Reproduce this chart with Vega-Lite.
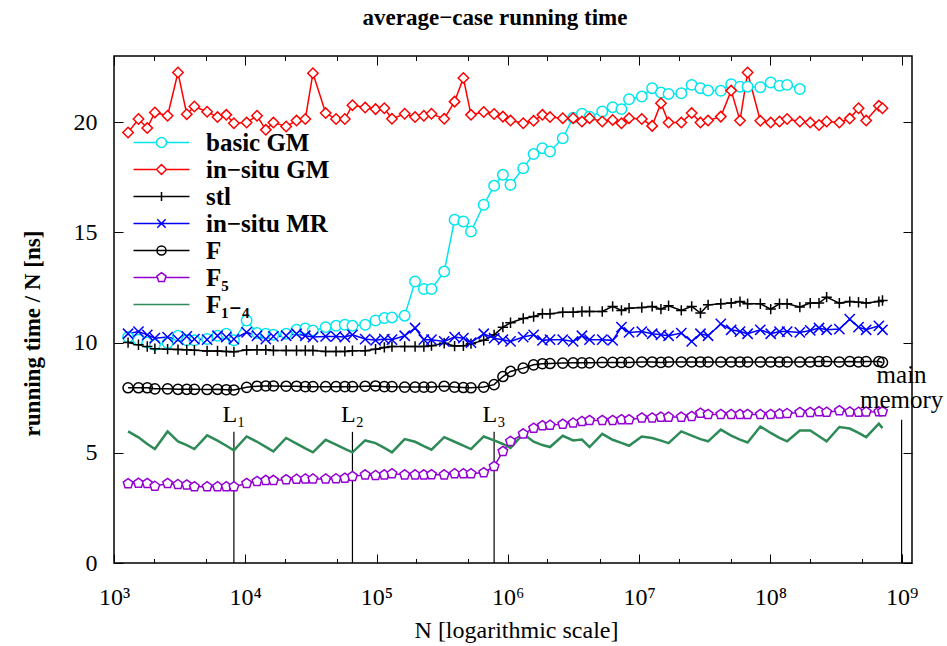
{
"$schema": "https://vega.github.io/schema/vega-lite/v6.json",
"width": 798, "height": 507,
"autosize": {"type": "none"},
"padding": {"left": 114, "top": 56, "right": 35, "bottom": 83},
"background": "white",
"title": {"text": "average−case running time", "font": "Liberation Serif, DejaVu Serif, serif", "fontSize": 23, "fontWeight": "bold", "anchor": "middle", "offset": 26, "dx": -18, "color": "black", "frame": "group"},
"config": {
  "font": "Liberation Serif, DejaVu Serif, serif",
  "view": {"stroke": "black", "strokeWidth": 1.5},
  "axis": {"grid": false, "domain": false, "labelFont": "Liberation Serif, DejaVu Serif, serif", "labelFontSize": 24, "labelColor": "black", "tickColor": "black", "tickWidth": 1, "titleFont": "Liberation Serif, DejaVu Serif, serif", "titleColor": "black", "labelFlush": false, "labelOverlap": false},
  "legend": {"labelFont": "Liberation Serif, DejaVu Serif, serif"},
  "text": {"font": "Liberation Serif, DejaVu Serif, serif"}
},
"datasets": {
"marks": [
 {"name": "L₁", "N": 8192, "top": 5.95},
 {"name": "L₂", "N": 65536, "top": 5.95},
 {"name": "L₃", "N": 786432, "top": 5.95},
 {"name": "main\nmemory", "N": 1000000000, "top": 6.5}
],
"main": [
{"s":"basic GM","N":1280,"t":10.25},{"s":"basic GM","N":1536,"t":10.13},{"s":"basic GM","N":1792,"t":10.0},{"s":"basic GM","N":2048,"t":9.9},{"s":"basic GM","N":2560,"t":9.98},{"s":"basic GM","N":3072,"t":10.31},{"s":"basic GM","N":3584,"t":10.1},{"s":"basic GM","N":4096,"t":10.1},{"s":"basic GM","N":5120,"t":10.16},{"s":"basic GM","N":6144,"t":10.31},
{"s":"basic GM","N":7168,"t":10.4},{"s":"basic GM","N":8192,"t":10.1},{"s":"basic GM","N":10240,"t":11.0},{"s":"basic GM","N":12288,"t":10.43},{"s":"basic GM","N":14336,"t":10.4},{"s":"basic GM","N":16384,"t":10.35},{"s":"basic GM","N":20480,"t":10.4},{"s":"basic GM","N":24576,"t":10.58},{"s":"basic GM","N":28672,"t":10.64},{"s":"basic GM","N":32768,"t":10.55},
{"s":"basic GM","N":40960,"t":10.7},{"s":"basic GM","N":49152,"t":10.76},{"s":"basic GM","N":57344,"t":10.81},{"s":"basic GM","N":65536,"t":10.76},{"s":"basic GM","N":81920,"t":10.81},{"s":"basic GM","N":98304,"t":11.0},{"s":"basic GM","N":114688,"t":11.11},{"s":"basic GM","N":131072,"t":11.14},{"s":"basic GM","N":163840,"t":11.22},{"s":"basic GM","N":196608,"t":12.77},
{"s":"basic GM","N":229376,"t":12.43},{"s":"basic GM","N":262144,"t":12.43},{"s":"basic GM","N":327680,"t":13.22},{"s":"basic GM","N":393216,"t":15.57},{"s":"basic GM","N":458752,"t":15.49},{"s":"basic GM","N":524288,"t":15.04},{"s":"basic GM","N":655360,"t":16.25},{"s":"basic GM","N":786432,"t":17.11},{"s":"basic GM","N":917504,"t":17.61},{"s":"basic GM","N":1048576,"t":17.16},
{"s":"basic GM","N":1310720,"t":17.91},{"s":"basic GM","N":1572864,"t":18.55},{"s":"basic GM","N":1835008,"t":18.82},{"s":"basic GM","N":2097152,"t":18.67},{"s":"basic GM","N":2621440,"t":19.27},{"s":"basic GM","N":3145728,"t":20.2},{"s":"basic GM","N":3670016,"t":20.38},{"s":"basic GM","N":4194304,"t":20.25},{"s":"basic GM","N":5242880,"t":20.48},{"s":"basic GM","N":6291456,"t":20.68},
{"s":"basic GM","N":7340032,"t":20.59},{"s":"basic GM","N":8388608,"t":21.04},{"s":"basic GM","N":10485760,"t":21.16},{"s":"basic GM","N":12582912,"t":21.54},{"s":"basic GM","N":14680064,"t":21.34},{"s":"basic GM","N":16777216,"t":21.28},{"s":"basic GM","N":20971520,"t":21.31},{"s":"basic GM","N":25165824,"t":21.69},{"s":"basic GM","N":29360128,"t":21.54},{"s":"basic GM","N":33554432,"t":21.43},
{"s":"basic GM","N":41943040,"t":21.42},{"s":"basic GM","N":50331648,"t":21.72},{"s":"basic GM","N":58720256,"t":21.61},{"s":"basic GM","N":67108864,"t":21.61},{"s":"basic GM","N":83886080,"t":21.58},{"s":"basic GM","N":100663296,"t":21.8},{"s":"basic GM","N":117440512,"t":21.65},{"s":"basic GM","N":134217728,"t":21.69},{"s":"basic GM","N":167772160,"t":21.5},

{"s":"in−situ GM","N":1280,"t":19.53},{"s":"in−situ GM","N":1536,"t":20.14},{"s":"in−situ GM","N":1792,"t":19.73},{"s":"in−situ GM","N":2048,"t":20.44},{"s":"in−situ GM","N":2560,"t":20.29},{"s":"in−situ GM","N":3072,"t":22.25},{"s":"in−situ GM","N":3584,"t":20.36},{"s":"in−situ GM","N":4096,"t":20.71},{"s":"in−situ GM","N":5120,"t":20.47},{"s":"in−situ GM","N":6144,"t":20.23},
{"s":"in−situ GM","N":7168,"t":20.33},{"s":"in−situ GM","N":8192,"t":19.95},{"s":"in−situ GM","N":10240,"t":19.98},{"s":"in−situ GM","N":12288,"t":20.29},{"s":"in−situ GM","N":14336,"t":19.65},{"s":"in−situ GM","N":16384,"t":19.98},{"s":"in−situ GM","N":20480,"t":19.8},{"s":"in−situ GM","N":24576,"t":20.07},{"s":"in−situ GM","N":28672,"t":20.14},{"s":"in−situ GM","N":32768,"t":22.22},
{"s":"in−situ GM","N":40960,"t":20.41},{"s":"in−situ GM","N":49152,"t":20.14},{"s":"in−situ GM","N":57344,"t":20.14},{"s":"in−situ GM","N":65536,"t":20.77},{"s":"in−situ GM","N":81920,"t":20.66},{"s":"in−situ GM","N":98304,"t":20.59},{"s":"in−situ GM","N":114688,"t":20.63},{"s":"in−situ GM","N":131072,"t":20.15},{"s":"in−situ GM","N":163840,"t":20.38},{"s":"in−situ GM","N":196608,"t":20.23},
{"s":"in−situ GM","N":229376,"t":20.29},{"s":"in−situ GM","N":262144,"t":20.38},{"s":"in−situ GM","N":327680,"t":20.15},{"s":"in−situ GM","N":393216,"t":20.93},{"s":"in−situ GM","N":458752,"t":22.0},{"s":"in−situ GM","N":524288,"t":20.33},{"s":"in−situ GM","N":655360,"t":20.46},{"s":"in−situ GM","N":786432,"t":20.37},{"s":"in−situ GM","N":917504,"t":20.25},{"s":"in−situ GM","N":1048576,"t":20.07},
{"s":"in−situ GM","N":1310720,"t":19.95},{"s":"in−situ GM","N":1572864,"t":20.06},{"s":"in−situ GM","N":1835008,"t":20.33},{"s":"in−situ GM","N":2097152,"t":20.23},{"s":"in−situ GM","N":2621440,"t":20.18},{"s":"in−situ GM","N":3145728,"t":20.18},{"s":"in−situ GM","N":3670016,"t":20.03},{"s":"in−situ GM","N":4194304,"t":20.18},{"s":"in−situ GM","N":5242880,"t":20.03},{"s":"in−situ GM","N":6291456,"t":20.1},
{"s":"in−situ GM","N":7340032,"t":19.95},{"s":"in−situ GM","N":8388608,"t":20.18},{"s":"in−situ GM","N":10485760,"t":20.14},{"s":"in−situ GM","N":12582912,"t":19.83},{"s":"in−situ GM","N":14680064,"t":20.86},{"s":"in−situ GM","N":16777216,"t":19.98},{"s":"in−situ GM","N":20971520,"t":19.98},{"s":"in−situ GM","N":25165824,"t":20.41},{"s":"in−situ GM","N":29360128,"t":19.98},{"s":"in−situ GM","N":33554432,"t":20.07},
{"s":"in−situ GM","N":41943040,"t":20.25},{"s":"in−situ GM","N":50331648,"t":21.43},{"s":"in−situ GM","N":58720256,"t":20.07},{"s":"in−situ GM","N":67108864,"t":22.25},{"s":"in−situ GM","N":83886080,"t":20.06},{"s":"in−situ GM","N":100663296,"t":19.98},{"s":"in−situ GM","N":117440512,"t":20.03},{"s":"in−situ GM","N":134217728,"t":20.14},{"s":"in−situ GM","N":167772160,"t":20.03},{"s":"in−situ GM","N":201326592,"t":19.98},
{"s":"in−situ GM","N":234881024,"t":19.87},{"s":"in−situ GM","N":268435456,"t":20.03},{"s":"in−situ GM","N":335544320,"t":19.98},{"s":"in−situ GM","N":402653184,"t":20.16},{"s":"in−situ GM","N":469762048,"t":20.63},{"s":"in−situ GM","N":536870912,"t":20.07},{"s":"in−situ GM","N":671088640,"t":20.74},{"s":"in−situ GM","N":715000000,"t":20.63},

{"s":"stl","N":1280,"t":10.0},{"s":"stl","N":1536,"t":9.9},{"s":"stl","N":1792,"t":9.82},{"s":"stl","N":2048,"t":9.72},{"s":"stl","N":2560,"t":9.7},{"s":"stl","N":3072,"t":9.68},{"s":"stl","N":3584,"t":9.67},{"s":"stl","N":4096,"t":9.65},{"s":"stl","N":5120,"t":9.62},{"s":"stl","N":6144,"t":9.62},
{"s":"stl","N":7168,"t":9.6},{"s":"stl","N":8192,"t":9.58},{"s":"stl","N":10240,"t":9.66},{"s":"stl","N":12288,"t":9.67},{"s":"stl","N":14336,"t":9.67},{"s":"stl","N":16384,"t":9.64},{"s":"stl","N":20480,"t":9.64},{"s":"stl","N":24576,"t":9.64},{"s":"stl","N":28672,"t":9.64},{"s":"stl","N":32768,"t":9.64},
{"s":"stl","N":40960,"t":9.6},{"s":"stl","N":49152,"t":9.6},{"s":"stl","N":57344,"t":9.6},{"s":"stl","N":65536,"t":9.63},{"s":"stl","N":81920,"t":9.63},{"s":"stl","N":98304,"t":9.7},{"s":"stl","N":114688,"t":9.78},{"s":"stl","N":131072,"t":9.82},{"s":"stl","N":163840,"t":9.82},{"s":"stl","N":196608,"t":9.82},
{"s":"stl","N":229376,"t":9.82},{"s":"stl","N":262144,"t":9.86},{"s":"stl","N":327680,"t":9.97},{"s":"stl","N":393216,"t":9.84},{"s":"stl","N":458752,"t":9.85},{"s":"stl","N":524288,"t":9.95},{"s":"stl","N":655360,"t":10.1},{"s":"stl","N":786432,"t":10.35},{"s":"stl","N":917504,"t":10.7},{"s":"stl","N":1048576,"t":10.9},
{"s":"stl","N":1310720,"t":11.09},{"s":"stl","N":1572864,"t":11.18},{"s":"stl","N":1835008,"t":11.31},{"s":"stl","N":2097152,"t":11.31},{"s":"stl","N":2621440,"t":11.37},{"s":"stl","N":3145728,"t":11.37},{"s":"stl","N":3670016,"t":11.41},{"s":"stl","N":4194304,"t":11.41},{"s":"stl","N":5242880,"t":11.41},{"s":"stl","N":6291456,"t":11.64},
{"s":"stl","N":7340032,"t":11.46},{"s":"stl","N":8388608,"t":11.56},{"s":"stl","N":10485760,"t":11.59},{"s":"stl","N":12582912,"t":11.64},{"s":"stl","N":14680064,"t":11.52},{"s":"stl","N":16777216,"t":11.67},{"s":"stl","N":20971520,"t":11.46},{"s":"stl","N":25165824,"t":11.64},{"s":"stl","N":29360128,"t":11.34},{"s":"stl","N":33554432,"t":11.71},
{"s":"stl","N":41943040,"t":11.76},{"s":"stl","N":50331648,"t":11.79},{"s":"stl","N":58720256,"t":11.86},{"s":"stl","N":67108864,"t":11.76},{"s":"stl","N":83886080,"t":11.76},{"s":"stl","N":100663296,"t":11.52},{"s":"stl","N":117440512,"t":11.76},{"s":"stl","N":134217728,"t":11.76},{"s":"stl","N":167772160,"t":11.61},{"s":"stl","N":201326592,"t":11.79},
{"s":"stl","N":234881024,"t":11.79},{"s":"stl","N":268435456,"t":12.06},{"s":"stl","N":335544320,"t":11.79},{"s":"stl","N":402653184,"t":11.86},{"s":"stl","N":469762048,"t":11.83},{"s":"stl","N":536870912,"t":11.79},{"s":"stl","N":671088640,"t":11.86},{"s":"stl","N":715000000,"t":11.91},

{"s":"in−situ MR","N":1280,"t":10.4},{"s":"in−situ MR","N":1536,"t":10.5},{"s":"in−situ MR","N":1792,"t":10.35},{"s":"in−situ MR","N":2048,"t":10.2},{"s":"in−situ MR","N":2560,"t":10.25},{"s":"in−situ MR","N":3072,"t":10.13},{"s":"in−situ MR","N":3584,"t":10.28},{"s":"in−situ MR","N":4096,"t":10.16},{"s":"in−situ MR","N":5120,"t":10.13},{"s":"in−situ MR","N":6144,"t":10.31},
{"s":"in−situ MR","N":7168,"t":10.25},{"s":"in−situ MR","N":8192,"t":10.16},{"s":"in−situ MR","N":10240,"t":10.46},{"s":"in−situ MR","N":12288,"t":10.31},{"s":"in−situ MR","N":14336,"t":10.16},{"s":"in−situ MR","N":16384,"t":10.28},{"s":"in−situ MR","N":20480,"t":10.31},{"s":"in−situ MR","N":24576,"t":10.4},{"s":"in−situ MR","N":28672,"t":10.31},{"s":"in−situ MR","N":32768,"t":10.25},
{"s":"in−situ MR","N":40960,"t":10.28},{"s":"in−situ MR","N":49152,"t":10.28},{"s":"in−situ MR","N":57344,"t":10.25},{"s":"in−situ MR","N":65536,"t":10.35},{"s":"in−situ MR","N":81920,"t":10.16},{"s":"in−situ MR","N":98304,"t":10.1},{"s":"in−situ MR","N":114688,"t":10.16},{"s":"in−situ MR","N":131072,"t":10.13},{"s":"in−situ MR","N":163840,"t":10.31},{"s":"in−situ MR","N":196608,"t":10.66},
{"s":"in−situ MR","N":229376,"t":10.13},{"s":"in−situ MR","N":262144,"t":10.13},{"s":"in−situ MR","N":327680,"t":10.05},{"s":"in−situ MR","N":393216,"t":10.25},{"s":"in−situ MR","N":458752,"t":10.2},{"s":"in−situ MR","N":524288,"t":10.0},{"s":"in−situ MR","N":655360,"t":10.4},{"s":"in−situ MR","N":786432,"t":10.2},{"s":"in−situ MR","N":917504,"t":10.13},{"s":"in−situ MR","N":1048576,"t":10.05},
{"s":"in−situ MR","N":1310720,"t":10.25},{"s":"in−situ MR","N":1572864,"t":10.35},{"s":"in−situ MR","N":1835008,"t":10.1},{"s":"in−situ MR","N":2097152,"t":10.13},{"s":"in−situ MR","N":2621440,"t":10.13},{"s":"in−situ MR","N":3145728,"t":10.05},{"s":"in−situ MR","N":3670016,"t":10.31},{"s":"in−situ MR","N":4194304,"t":10.13},{"s":"in−situ MR","N":5242880,"t":10.13},{"s":"in−situ MR","N":6291456,"t":10.1},
{"s":"in−situ MR","N":7340032,"t":10.7},{"s":"in−situ MR","N":8388608,"t":10.46},{"s":"in−situ MR","N":10485760,"t":10.5},{"s":"in−situ MR","N":12582912,"t":10.4},{"s":"in−situ MR","N":14680064,"t":10.35},{"s":"in−situ MR","N":16777216,"t":10.31},{"s":"in−situ MR","N":20971520,"t":10.43},{"s":"in−situ MR","N":25165824,"t":10.05},{"s":"in−situ MR","N":29360128,"t":10.4},{"s":"in−situ MR","N":33554432,"t":10.31},
{"s":"in−situ MR","N":41943040,"t":10.85},{"s":"in−situ MR","N":50331648,"t":10.58},{"s":"in−situ MR","N":58720256,"t":10.5},{"s":"in−situ MR","N":67108864,"t":10.4},{"s":"in−situ MR","N":83886080,"t":10.58},{"s":"in−situ MR","N":100663296,"t":10.4},{"s":"in−situ MR","N":117440512,"t":10.5},{"s":"in−situ MR","N":134217728,"t":10.5},{"s":"in−situ MR","N":167772160,"t":10.46},{"s":"in−situ MR","N":201326592,"t":10.55},
{"s":"in−situ MR","N":234881024,"t":10.66},{"s":"in−situ MR","N":268435456,"t":10.58},{"s":"in−situ MR","N":335544320,"t":10.61},{"s":"in−situ MR","N":402653184,"t":11.06},{"s":"in−situ MR","N":469762048,"t":10.7},{"s":"in−situ MR","N":536870912,"t":10.58},{"s":"in−situ MR","N":671088640,"t":10.76},{"s":"in−situ MR","N":715000000,"t":10.58},

{"s":"F","N":1280,"t":7.95},{"s":"F","N":1536,"t":7.95},{"s":"F","N":1792,"t":7.95},{"s":"F","N":2048,"t":7.9},{"s":"F","N":2560,"t":7.9},{"s":"F","N":3072,"t":7.88},{"s":"F","N":3584,"t":7.88},{"s":"F","N":4096,"t":7.88},{"s":"F","N":5120,"t":7.87},{"s":"F","N":6144,"t":7.88},
{"s":"F","N":7168,"t":7.86},{"s":"F","N":8192,"t":7.85},{"s":"F","N":10240,"t":7.97},{"s":"F","N":12288,"t":8.02},{"s":"F","N":14336,"t":8.03},{"s":"F","N":16384,"t":8.03},{"s":"F","N":20480,"t":8.02},{"s":"F","N":24576,"t":8.02},{"s":"F","N":28672,"t":8.0},{"s":"F","N":32768,"t":8.0},
{"s":"F","N":40960,"t":8.0},{"s":"F","N":49152,"t":8.0},{"s":"F","N":57344,"t":8.0},{"s":"F","N":65536,"t":8.0},{"s":"F","N":81920,"t":8.02},{"s":"F","N":98304,"t":8.03},{"s":"F","N":114688,"t":8.0},{"s":"F","N":131072,"t":8.0},{"s":"F","N":163840,"t":7.98},{"s":"F","N":196608,"t":7.98},
{"s":"F","N":229376,"t":7.98},{"s":"F","N":262144,"t":7.98},{"s":"F","N":327680,"t":8.02},{"s":"F","N":393216,"t":7.98},{"s":"F","N":458752,"t":7.96},{"s":"F","N":524288,"t":7.95},{"s":"F","N":655360,"t":7.98},{"s":"F","N":786432,"t":8.09},{"s":"F","N":917504,"t":8.46},{"s":"F","N":1048576,"t":8.69},
{"s":"F","N":1310720,"t":8.84},{"s":"F","N":1572864,"t":8.99},{"s":"F","N":1835008,"t":9.04},{"s":"F","N":2097152,"t":9.05},{"s":"F","N":2621440,"t":9.07},{"s":"F","N":3145728,"t":9.08},{"s":"F","N":3670016,"t":9.08},{"s":"F","N":4194304,"t":9.08},{"s":"F","N":5242880,"t":9.1},{"s":"F","N":6291456,"t":9.1},
{"s":"F","N":7340032,"t":9.1},{"s":"F","N":8388608,"t":9.1},{"s":"F","N":10485760,"t":9.12},{"s":"F","N":12582912,"t":9.12},{"s":"F","N":14680064,"t":9.1},{"s":"F","N":16777216,"t":9.12},{"s":"F","N":20971520,"t":9.12},{"s":"F","N":25165824,"t":9.12},{"s":"F","N":29360128,"t":9.12},{"s":"F","N":33554432,"t":9.12},
{"s":"F","N":41943040,"t":9.12},{"s":"F","N":50331648,"t":9.12},{"s":"F","N":58720256,"t":9.12},{"s":"F","N":67108864,"t":9.12},{"s":"F","N":83886080,"t":9.12},{"s":"F","N":100663296,"t":9.12},{"s":"F","N":117440512,"t":9.12},{"s":"F","N":134217728,"t":9.12},{"s":"F","N":167772160,"t":9.12},{"s":"F","N":201326592,"t":9.12},
{"s":"F","N":234881024,"t":9.14},{"s":"F","N":268435456,"t":9.14},{"s":"F","N":335544320,"t":9.12},{"s":"F","N":402653184,"t":9.14},{"s":"F","N":469762048,"t":9.12},{"s":"F","N":536870912,"t":9.14},{"s":"F","N":671088640,"t":9.14},{"s":"F","N":715000000,"t":9.1},

{"s":"F₅","N":1280,"t":3.6},{"s":"F₅","N":1536,"t":3.62},{"s":"F₅","N":1792,"t":3.61},{"s":"F₅","N":2048,"t":3.48},{"s":"F₅","N":2560,"t":3.61},{"s":"F₅","N":3072,"t":3.56},{"s":"F₅","N":3584,"t":3.54},{"s":"F₅","N":4096,"t":3.46},{"s":"F₅","N":5120,"t":3.46},{"s":"F₅","N":6144,"t":3.46},
{"s":"F₅","N":7168,"t":3.46},{"s":"F₅","N":8192,"t":3.46},{"s":"F₅","N":10240,"t":3.61},{"s":"F₅","N":12288,"t":3.7},{"s":"F₅","N":14336,"t":3.75},{"s":"F₅","N":16384,"t":3.75},{"s":"F₅","N":20480,"t":3.78},{"s":"F₅","N":24576,"t":3.8},{"s":"F₅","N":28672,"t":3.81},{"s":"F₅","N":32768,"t":3.81},
{"s":"F₅","N":40960,"t":3.81},{"s":"F₅","N":49152,"t":3.82},{"s":"F₅","N":57344,"t":3.85},{"s":"F₅","N":65536,"t":3.93},{"s":"F₅","N":81920,"t":4.0},{"s":"F₅","N":98304,"t":3.97},{"s":"F₅","N":114688,"t":4.0},{"s":"F₅","N":131072,"t":4.05},{"s":"F₅","N":163840,"t":4.0},{"s":"F₅","N":196608,"t":4.0},
{"s":"F₅","N":229376,"t":4.0},{"s":"F₅","N":262144,"t":4.01},{"s":"F₅","N":327680,"t":4.0},{"s":"F₅","N":393216,"t":4.05},{"s":"F₅","N":458752,"t":4.05},{"s":"F₅","N":524288,"t":4.05},{"s":"F₅","N":655360,"t":4.1},{"s":"F₅","N":786432,"t":4.38},{"s":"F₅","N":917504,"t":5.06},{"s":"F₅","N":1048576,"t":5.52},
{"s":"F₅","N":1310720,"t":5.86},{"s":"F₅","N":1572864,"t":6.12},{"s":"F₅","N":1835008,"t":6.23},{"s":"F₅","N":2097152,"t":6.25},{"s":"F₅","N":2621440,"t":6.3},{"s":"F₅","N":3145728,"t":6.35},{"s":"F₅","N":3670016,"t":6.42},{"s":"F₅","N":4194304,"t":6.47},{"s":"F₅","N":5242880,"t":6.47},{"s":"F₅","N":6291456,"t":6.47},
{"s":"F₅","N":7340032,"t":6.5},{"s":"F₅","N":8388608,"t":6.5},{"s":"F₅","N":10485760,"t":6.58},{"s":"F₅","N":12582912,"t":6.58},{"s":"F₅","N":14680064,"t":6.62},{"s":"F₅","N":16777216,"t":6.62},{"s":"F₅","N":20971520,"t":6.62},{"s":"F₅","N":25165824,"t":6.65},{"s":"F₅","N":29360128,"t":6.8},{"s":"F₅","N":33554432,"t":6.74},
{"s":"F₅","N":41943040,"t":6.74},{"s":"F₅","N":50331648,"t":6.74},{"s":"F₅","N":58720256,"t":6.74},{"s":"F₅","N":67108864,"t":6.74},{"s":"F₅","N":83886080,"t":6.74},{"s":"F₅","N":100663296,"t":6.74},{"s":"F₅","N":117440512,"t":6.76},{"s":"F₅","N":134217728,"t":6.78},{"s":"F₅","N":167772160,"t":6.83},{"s":"F₅","N":201326592,"t":6.83},
{"s":"F₅","N":234881024,"t":6.87},{"s":"F₅","N":268435456,"t":6.84},{"s":"F₅","N":335544320,"t":6.91},{"s":"F₅","N":402653184,"t":6.85},{"s":"F₅","N":469762048,"t":6.84},{"s":"F₅","N":536870912,"t":6.85},{"s":"F₅","N":671088640,"t":6.86},{"s":"F₅","N":715000000,"t":6.87},

{"s":"F₁₋₄","N":1280,"t":5.97},{"s":"F₁₋₄","N":1536,"t":5.7},{"s":"F₁₋₄","N":1792,"t":5.4},{"s":"F₁₋₄","N":2048,"t":5.17},{"s":"F₁₋₄","N":2560,"t":5.97},{"s":"F₁₋₄","N":3072,"t":5.52},{"s":"F₁₋₄","N":3584,"t":5.35},{"s":"F₁₋₄","N":4096,"t":5.17},{"s":"F₁₋₄","N":5120,"t":5.79},{"s":"F₁₋₄","N":6144,"t":5.55},
{"s":"F₁₋₄","N":7168,"t":5.32},{"s":"F₁₋₄","N":8192,"t":5.11},{"s":"F₁₋₄","N":10240,"t":5.74},{"s":"F₁₋₄","N":12288,"t":5.5},{"s":"F₁₋₄","N":14336,"t":5.27},{"s":"F₁₋₄","N":16384,"t":5.06},{"s":"F₁₋₄","N":20480,"t":5.67},{"s":"F₁₋₄","N":24576,"t":5.42},{"s":"F₁₋₄","N":28672,"t":5.2},{"s":"F₁₋₄","N":32768,"t":5.02},
{"s":"F₁₋₄","N":40960,"t":5.59},{"s":"F₁₋₄","N":49152,"t":5.37},{"s":"F₁₋₄","N":57344,"t":5.18},{"s":"F₁₋₄","N":65536,"t":5.02},{"s":"F₁₋₄","N":81920,"t":5.56},{"s":"F₁₋₄","N":98304,"t":5.44},{"s":"F₁₋₄","N":114688,"t":5.22},{"s":"F₁₋₄","N":131072,"t":5.02},{"s":"F₁₋₄","N":163840,"t":5.62},{"s":"F₁₋₄","N":196608,"t":5.5},
{"s":"F₁₋₄","N":229376,"t":5.3},{"s":"F₁₋₄","N":262144,"t":5.14},{"s":"F₁₋₄","N":327680,"t":5.71},{"s":"F₁₋₄","N":393216,"t":5.5},{"s":"F₁₋₄","N":458752,"t":5.32},{"s":"F₁₋₄","N":524288,"t":5.17},{"s":"F₁₋₄","N":655360,"t":5.74},{"s":"F₁₋₄","N":786432,"t":5.56},{"s":"F₁₋₄","N":917504,"t":5.4},{"s":"F₁₋₄","N":1048576,"t":5.22},
{"s":"F₁₋₄","N":1310720,"t":5.86},{"s":"F₁₋₄","N":1572864,"t":5.5},{"s":"F₁₋₄","N":1835008,"t":5.35},{"s":"F₁₋₄","N":2097152,"t":5.26},{"s":"F₁₋₄","N":2621440,"t":5.77},{"s":"F₁₋₄","N":3145728,"t":5.56},{"s":"F₁₋₄","N":3670016,"t":5.6},{"s":"F₁₋₄","N":4194304,"t":5.26},{"s":"F₁₋₄","N":5242880,"t":5.86},{"s":"F₁₋₄","N":6291456,"t":5.59},
{"s":"F₁₋₄","N":7340032,"t":5.45},{"s":"F₁₋₄","N":8388608,"t":5.32},{"s":"F₁₋₄","N":10485760,"t":5.74},{"s":"F₁₋₄","N":12582912,"t":5.67},{"s":"F₁₋₄","N":14680064,"t":5.55},{"s":"F₁₋₄","N":16777216,"t":5.44},{"s":"F₁₋₄","N":20971520,"t":5.97},{"s":"F₁₋₄","N":25165824,"t":5.78},{"s":"F₁₋₄","N":29360128,"t":5.62},{"s":"F₁₋₄","N":33554432,"t":5.52},
{"s":"F₁₋₄","N":41943040,"t":6.05},{"s":"F₁₋₄","N":50331648,"t":5.78},{"s":"F₁₋₄","N":58720256,"t":5.6},{"s":"F₁₋₄","N":67108864,"t":5.47},{"s":"F₁₋₄","N":83886080,"t":6.19},{"s":"F₁₋₄","N":100663296,"t":5.9},{"s":"F₁₋₄","N":117440512,"t":5.68},{"s":"F₁₋₄","N":134217728,"t":5.52},{"s":"F₁₋₄","N":167772160,"t":6.01},{"s":"F₁₋₄","N":201326592,"t":6.01},
{"s":"F₁₋₄","N":234881024,"t":5.75},{"s":"F₁₋₄","N":268435456,"t":5.52},{"s":"F₁₋₄","N":335544320,"t":6.17},{"s":"F₁₋₄","N":402653184,"t":6.1},{"s":"F₁₋₄","N":469762048,"t":5.9},{"s":"F₁₋₄","N":536870912,"t":5.71},{"s":"F₁₋₄","N":671088640,"t":6.32},{"s":"F₁₋₄","N":715000000,"t":6.12}
]
},
"layer": [
 {
  "data": {"name": "marks"},
  "mark": {"type": "rule", "strokeWidth": 1.2, "color": "black"},
  "encoding": {
   "x": {"field": "N", "type": "quantitative", "scale": {"type": "log", "domain": [1000, 1200000000], "nice": false},
         "axis": {"orient": "top", "values": [1000, 10000, 100000, 1000000, 10000000, 100000000, 1000000000], "tickSize": -9, "labels": false, "title": null}},
   "y": {"field": "top", "type": "quantitative", "scale": {"domain": [0, 23], "nice": false, "zero": false}, "axis": null},
   "y2": {"datum": 0}
  }
 },
 {
  "data": {"name": "main"},
  "transform": [{"filter": "datum.s !== 'F₁₋₄'"}],
  "mark": {"type": "line", "strokeWidth": 1.5},
  "encoding": {
   "x": {"field": "N", "type": "quantitative", "scale": {"type": "log", "domain": [1000, 1200000000], "nice": false},
         "axis": {"orient": "bottom", "values": [1000, 10000, 100000, 1000000, 10000000, 100000000, 1000000000], "tickSize": -9, "labelPadding": 31,
                  "labelExpr": "'10' + ['³','⁴','⁵','⁶','⁷','⁸','⁹'][round(log(datum.value)/LN10)-3]",
                  "title": "N [logarithmic scale]", "titleFontSize": 24, "titleFontWeight": "normal", "titleX": 402, "titleY": 67, "titleBaseline": "middle", "titleAlign": "center", "titleAngle": 0}},
   "y": {"field": "t", "type": "quantitative", "scale": {"domain": [0, 23], "nice": false, "zero": false},
         "axis": {"orient": "left", "values": [0, 5, 10, 15, 20], "tickSize": -9, "labelPadding": 26,
                  "title": "running time / N  [ns]", "titleFontSize": 23, "titleFontWeight": "bold", "titleX": -82, "titleY": 277, "titleAngle": -90, "titleAlign": "center", "titleBaseline": "middle"}},
   "stroke": {"field": "s", "type": "nominal", "scale": {"domain": ["basic GM", "in−situ GM", "stl", "in−situ MR", "F", "F₅", "F₁₋₄"], "range": ["#00e6ee", "#ff0000", "#000000", "#0000ff", "#000000", "#9400d3", "#2e8b57"]}, "legend": null}
  }
 },
 {
  "data": {"name": "main"},
  "transform": [{"filter": "datum.s === 'F₁₋₄'"}],
  "mark": {"type": "line", "strokeWidth": 2.5, "color": "#2e8b57"},
  "encoding": {
   "x": {"field": "N", "type": "quantitative", "scale": {"type": "log", "domain": [1000, 1200000000], "nice": false}, "axis": null},
   "y": {"field": "t", "type": "quantitative", "scale": {"domain": [0, 23], "nice": false, "zero": false}, "axis": null}
  }
 },
 {
  "data": {"name": "main"},
  "transform": [{"filter": "datum.s !== 'F₁₋₄'"}],
  "mark": {"type": "point", "strokeWidth": 1.5, "opacity": 1},
  "encoding": {
   "x": {"field": "N", "type": "quantitative", "scale": {"type": "log", "domain": [1000, 1200000000], "nice": false},
         "axis": {"orient": "bottom", "values": [2000, 5000, 20000, 50000, 200000, 500000, 2000000, 5000000, 20000000, 50000000, 200000000, 500000000], "tickSize": -4.5, "labels": false, "title": null}},
   "y": {"field": "t", "type": "quantitative", "scale": {"domain": [0, 23], "nice": false, "zero": false},
         "axis": {"orient": "right", "values": [0, 5, 10, 15, 20], "tickSize": -9, "labels": false, "title": null}},
   "stroke": {"field": "s", "type": "nominal", "scale": {"domain": ["basic GM", "in−situ GM", "stl", "in−situ MR", "F", "F₅", "F₁₋₄"], "range": ["#00e6ee", "#ff0000", "#000000", "#0000ff", "#000000", "#9400d3", "#2e8b57"]}, "legend": null},
   "fill": {"field": "s", "type": "nominal", "scale": {"domain": ["basic GM", "in−situ GM", "stl", "in−situ MR", "F", "F₅", "F₁₋₄"], "range": ["#ffffff", "#ffffff", "transparent", "transparent", "transparent", "#ffffff", "transparent"]}, "legend": null},
   "shape": {"field": "s", "type": "nominal", "scale": {"domain": ["basic GM", "in−situ GM", "stl", "in−situ MR", "F", "F₅", "F₁₋₄"], "range": ["circle", "diamond", "M-1,0H1M0,-1V1", "M-1,-1L1,1M-1,1L1,-1", "circle", "M0,-1L0.951,-0.309L0.588,0.809L-0.588,0.809L-0.951,-0.309Z", "circle"]}, "legend": null},
   "size": {"field": "s", "type": "ordinal", "scale": {"domain": ["basic GM", "in−situ GM", "stl", "in−situ MR", "F", "F₅", "F₁₋₄"], "range": [110, 100, 90, 81, 81, 90, 1]}, "legend": null}
  }
 },
 {
  "data": {"name": "main"},
  "transform": [{"filter": "datum.N == 1280"}],
  "mark": {"type": "point", "opacity": 0, "size": 400},
  "encoding": {
   "x": {"field": "N", "type": "quantitative", "scale": {"type": "log", "domain": [1000, 1200000000], "nice": false}, "axis": null},
   "y": {"field": "t", "type": "quantitative", "scale": {"domain": [0, 23], "nice": false, "zero": false}, "axis": null},
   "stroke": {"field": "s", "type": "nominal", "scale": {"domain": ["basic GM", "in−situ GM", "stl", "in−situ MR", "F", "F₅", "F₁₋₄"], "range": ["#00e6ee", "#ff0000", "#000000", "#0000ff", "#000000", "#9400d3", "#2e8b57"]},
      "legend": {"orient": "none", "legendX": 35, "legendY": 74, "title": null, "labelFont": "Liberation Serif, DejaVu Serif, serif", "labelFontSize": 25, "labelFontWeight": "bold", "labelColor": "black", "labelOffset": 32, "labelLimit": 400, "symbolSize": 400, "symbolStrokeWidth": 1.5, "symbolOpacity": 1, "rowPadding": 1, "padding": 0, "offset": 0,
                 "encode": {"symbols": {"update": {"fill": {"value": "transparent"}, "strokeWidth": {"value": 1.5}, "opacity": {"value": 1}}}}}},
   "shape": {"field": "s", "type": "nominal", "scale": {"domain": ["basic GM", "in−situ GM", "stl", "in−situ MR", "F", "F₅", "F₁₋₄"], "range": [
       "M-2.8,0H-0.5M0.5,0H2.8M0.5,0A0.5,0.5 0 1 1 -0.5,0A0.5,0.5 0 1 1 0.5,0",
       "M-2.8,0H-0.5M0.5,0H2.8M0,-0.5L0.5,0L0,0.5L-0.5,0Z",
       "M-2.8,0H2.8M0,-0.45V0.45",
       "M-2.8,0H2.8M-0.42,-0.42L0.42,0.42M-0.42,0.42L0.42,-0.42",
       "M-2.8,0H2.8M0.45,0A0.45,0.45 0 1 1 -0.45,0A0.45,0.45 0 1 1 0.45,0",
       "M-2.8,0H-0.45M0.45,0H2.8M0,-0.48L0.456,-0.148L0.282,0.388L-0.282,0.388L-0.456,-0.148Z",
       "M-2.8,0H2.8"]},
      "legend": {"orient": "none", "legendX": 35, "legendY": 74, "title": null, "labelFont": "Liberation Serif, DejaVu Serif, serif", "labelFontSize": 25, "labelFontWeight": "bold", "labelColor": "black", "labelOffset": 32, "labelLimit": 400, "symbolSize": 400, "symbolStrokeWidth": 1.5, "symbolOpacity": 1, "rowPadding": 1, "padding": 0, "offset": 0,
                 "encode": {"symbols": {"update": {"fill": {"value": "transparent"}, "strokeWidth": {"value": 1.5}, "opacity": {"value": 1}}}}}}
  }
 },
 {
  "data": {"name": "marks"},
  "transform": [{"filter": "datum.N < 1000000000"}],
  "mark": {"type": "text", "font": "Liberation Serif, DejaVu Serif, serif", "fontSize": 24, "dy": -10, "align": "center", "baseline": "alphabetic", "color": "black"},
  "encoding": {
   "x": {"field": "N", "type": "quantitative", "scale": {"type": "log", "domain": [1000, 1200000000], "nice": false},
         "axis": {"orient": "top", "values": [2000, 5000, 20000, 50000, 200000, 500000, 2000000, 5000000, 20000000, 50000000, 200000000, 500000000], "tickSize": -4.5, "labels": false, "title": null}},
   "y": {"field": "top", "type": "quantitative", "scale": {"domain": [0, 23], "nice": false, "zero": false}, "axis": null},
   "text": {"field": "name"}
  }
 },
 {
  "data": {"name": "marks"},
  "transform": [{"filter": "datum.N >= 1000000000"}],
  "mark": {"type": "text", "font": "Liberation Serif, DejaVu Serif, serif", "fontSize": 25, "lineBreak": "\n", "lineHeight": 25, "dy": -32, "align": "center", "baseline": "bottom", "color": "black"},
  "encoding": {
   "x": {"field": "N", "type": "quantitative", "scale": {"type": "log", "domain": [1000, 1200000000], "nice": false}, "axis": null},
   "y": {"field": "top", "type": "quantitative", "scale": {"domain": [0, 23], "nice": false, "zero": false}, "axis": null},
   "text": {"field": "name"}
  }
 }
],
"resolve": {"scale": {"shape": "independent", "stroke": "independent", "fill": "independent", "size": "independent"}, "axis": {"x": "independent", "y": "independent"}}
}
